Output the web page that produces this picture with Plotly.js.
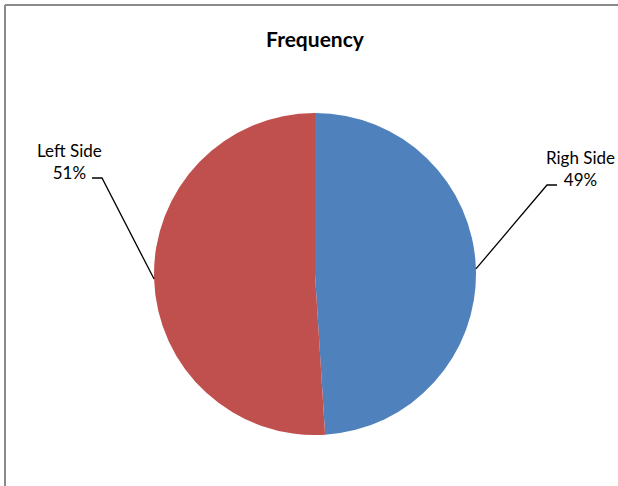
<!DOCTYPE html>
<html>
<head>
<meta charset="utf-8">
<script src="https://cdn.plot.ly/plotly-3.0.1.min.js"></script>
<style>
  html, body { margin: 0; padding: 0; background: #fff; }
  #chart { width: 618px; height: 486px; }
</style>
</head>
<body>
<div id="chart"></div>
<script>
// ---- data ----
const categories = ["Righ Side", "Left Side"];
const values = [49, 51];
const colors = ["#4F81BD", "#C0504D"];
const chartTitle = "Frequency";

// ---- layout constants (pixels) ----
const W = 618, H = 486;
const M = { l: 154, r: 142, t: 113, b: 51 };
const plotW = W - M.l - M.r, plotH = H - M.t - M.b;
const cx = M.l + plotW / 2, cy = M.t + plotH / 2;
const R = Math.min(plotW, plotH) / 2;
const px2x = px => (px - M.l) / plotW;
const py2y = py => (H - M.b - py) / plotH;

// label placement (pixels): text centre, elbow point, horizontal end
const labelPos = [
  { tx: 580, ty: 168, elbow: [547, 185], end: [557, 185] },
  { tx: 69, ty: 161, elbow: [102, 178], end: [92, 178] }
];

const total = values.reduce((a, b) => a + b, 0);
const annotations = [];
const shapes = [];
let acc = 0;
values.forEach((v, i) => {
  const mid = (acc + v / 2) / total * 2 * Math.PI; // clockwise from top
  acc += v;
  const ex = cx + R * Math.sin(mid), ey = cy - R * Math.cos(mid);
  const lp = labelPos[i];
  shapes.push({
    type: "path", xref: "paper", yref: "paper",
    path: `M ${px2x(ex)} ${py2y(ey)} L ${px2x(lp.elbow[0])} ${py2y(lp.elbow[1])} L ${px2x(lp.end[0])} ${py2y(lp.end[1])}`,
    line: { color: "#000", width: 1.3 }
  });
  annotations.push({
    xref: "paper", yref: "paper",
    x: px2x(lp.tx), y: py2y(lp.ty),
    xanchor: "center", yanchor: "middle", align: "center",
    showarrow: false,
    text: categories[i] + "<br>" + Math.round(v / total * 100) + "%",
    font: { family: "Lato, 'Noto Sans', sans-serif", size: 17, color: "#000" }
  });
});

// chart border (top & left visible)
shapes.push({ type: "line", xref: "paper", yref: "paper",
  x0: px2x(5), y0: py2y(5), x1: px2x(W + 5), y1: py2y(5),
  line: { color: "#8a8a8a", width: 2 } });
shapes.push({ type: "line", xref: "paper", yref: "paper",
  x0: px2x(5), y0: py2y(5), x1: px2x(5), y1: py2y(H + 5),
  line: { color: "#8a8a8a", width: 2 } });

const trace = {
  type: "pie",
  labels: categories,
  values: values,
  sort: false,
  direction: "clockwise",
  rotation: 0,
  textinfo: "none",
  hoverinfo: "label+percent",
  marker: { colors: colors, line: { color: "#ffffff", width: 0 } },
  showlegend: false
};

const layout = {
  width: W, height: H,
  margin: M,
  paper_bgcolor: "#ffffff",
  plot_bgcolor: "#ffffff",
  showlegend: false,
  title: {
    text: "<b>" + chartTitle + "</b>",
    x: 0.5, xref: "paper",
    y: 1 - 40 / H, yref: "container", yanchor: "middle",
    font: { family: "Lato, 'Noto Sans', sans-serif", size: 21, color: "#000" }
  },
  annotations: annotations,
  shapes: shapes
};

Plotly.newPlot("chart", [trace], layout, { displayModeBar: false, staticPlot: true });
</script>
</body>
</html>
